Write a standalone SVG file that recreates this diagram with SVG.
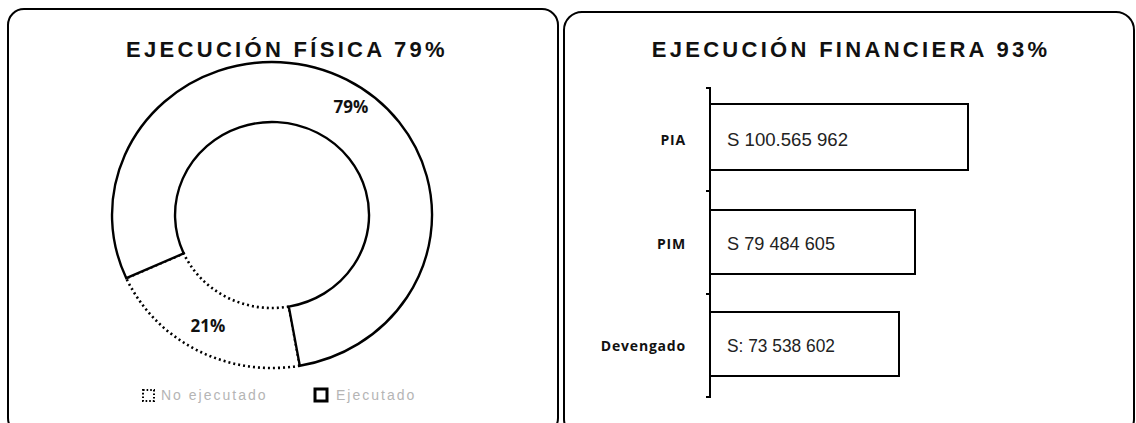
<svg xmlns="http://www.w3.org/2000/svg" width="1136" height="423" viewBox="0 0 1136 423">
<style>
.panel{fill:#fff;stroke:#000;stroke-width:2}
.title{font-family:"Liberation Sans",Arial,sans-serif;font-weight:bold;font-size:22px;letter-spacing:3.3px;fill:#111;text-anchor:middle}
.pct{font-family:"Open Sans","Liberation Sans",sans-serif;font-weight:bold;font-size:17px;fill:#111;text-anchor:middle}
.seg{fill:#fff;stroke:#000;stroke-width:2.4;stroke-linejoin:miter}
.dot{fill:#fff;stroke:#000;stroke-width:2.6;stroke-dasharray:2 3}
.leg{font-family:"Liberation Sans",sans-serif;font-size:14px;letter-spacing:2px;fill:#b5b5b5}
.cat{font-family:"Open Sans","Liberation Sans",sans-serif;font-weight:bold;font-size:14px;letter-spacing:0.8px;fill:#111;text-anchor:end}
.bar{fill:#fff;stroke:#000;stroke-width:2}
.val{font-family:"Liberation Sans",sans-serif;font-size:18px;fill:#222}
.axis{fill:none;stroke:#000;stroke-width:2}
</style>
<rect class="panel" x="8" y="9" width="550" height="425" rx="16"/>
<rect class="panel" x="564" y="12" width="570" height="425" rx="18"/>
<g id="titulo-fisica"><text class="title" x="287" y="57">EJECUCIÓN FÍSICA 79%</text></g>
<g id="titulo-financiera"><text class="title" x="851" y="57">EJECUCIÓN FINANCIERA 93%</text></g>
<g id="no-ejecutado">
<path class="dot" d="M 299.8 365.7 A 160 153 0 0 1 126.3 278.2 L 183.7 253.4 A 97 93 0 0 0 288.8 306.6 Z"/>
<text class="pct" x="208" y="332">21%</text>
</g>
<g id="ejecutado">
<path class="seg" d="M 126.3 278.2 A 160 153 0 1 1 299.8 365.7 L 288.8 306.6 A 97 93 0 1 0 183.7 253.4 Z"/>
<text class="pct" x="351" y="113">79%</text>
</g>
<g id="leyenda">
<rect x="143" y="390" width="11" height="11" fill="none" stroke="#000" stroke-width="2" stroke-dasharray="1.6 2"/>
<text class="leg" x="161" y="400">No ejecutado</text>
<rect x="315" y="389" width="12" height="12" fill="none" stroke="#000" stroke-width="3"/>
<text class="leg" x="336" y="400">Ejecutado</text>
</g>
<g id="eje">
<path class="axis" d="M 706 88 L 710 88 L 710 397 L 706 397 M 706 191 L 710 191 M 706 294 L 710 294"/>
</g>
<g id="pia">
<rect class="bar" x="710" y="104" width="258" height="66"/>
<text class="cat" x="686" y="145">PIA</text>
<text class="val" x="727" y="146" textLength="121" lengthAdjust="spacingAndGlyphs">S   100.565 962</text>
</g>
<g id="pim">
<rect class="bar" x="710" y="210" width="205" height="64"/>
<text class="cat" x="686" y="249">PIM</text>
<text class="val" x="727" y="250" textLength="108" lengthAdjust="spacingAndGlyphs">S   79 484 605</text>
</g>
<g id="devengado">
<rect class="bar" x="710" y="312" width="189" height="64"/>
<text class="cat" x="686" y="351">Devengado</text>
<text class="val" x="727" y="352" textLength="108" lengthAdjust="spacingAndGlyphs">S:  73 538 602</text>
</g>
</svg>
